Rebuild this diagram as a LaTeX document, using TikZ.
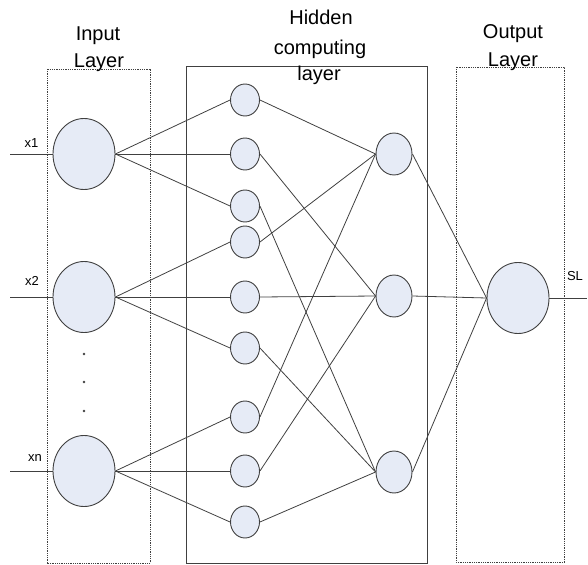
\documentclass[tikz,border=0pt]{standalone}
\usepackage{fontspec}
\setmainfont{Liberation Sans}
\usetikzlibrary{shapes.geometric}
\definecolor{nfill}{HTML}{E6EBF6}
\definecolor{nline}{HTML}{404040}
\begin{document}
\begin{tikzpicture}[x=1pt,y=-1pt,
  big/.style={ellipse,draw=nline,fill=nfill,line width=0.9pt,minimum width=62pt,minimum height=71pt,inner sep=0pt},
  mid/.style={ellipse,draw=nline,fill=nfill,line width=0.9pt,minimum width=36pt,minimum height=42pt,inner sep=0pt},
  small/.style={ellipse,draw=nline,fill=nfill,line width=0.9pt,minimum width=29pt,minimum height=32pt,inner sep=0pt},
  conn/.style={draw=nline,line width=0.8pt},
  dotbox/.style={draw=nline,line width=0.9pt,dash pattern=on 1pt off 0.8pt},
  title/.style={font=\fontsize{20}{24}\selectfont,anchor=base,inner sep=0pt},
  lab/.style={font=\fontsize{13}{15}\selectfont,anchor=base,inner sep=0pt}]
\useasboundingbox (0,0) rectangle (588,564);
% boxes
\draw[dotbox] (47,69) rectangle (150,563);
\draw[draw=nline,line width=0.9pt] (186,66) rectangle (427,563);
\draw[dotbox] (456,67) rectangle (564,562);
% titles
\node[title] (t1) at (98,41) {Input};
\node[title] (t2) at (99,68) {Layer};
\node[title] (t3) at (321,25) {Hidden};
\node[title] (t4) at (320,55) {computing};
\node[title] (t5) at (319,81) {layer};
\node[title] (t6) at (513,39) {Output};
\node[title] (t7) at (513,67) {Layer};
% input nodes
\node[big] (x1) at (84,154) {};
\node[big] (x2) at (84,297) {};
\node[big] (xn) at (84,471) {};
\fill[nline] (84,354) circle (1.4) (84,382) circle (1.4) (84,411) circle (1.4);
% hidden nodes
\foreach \i/\y in {1/100,2/154,3/206,4/242,5/297,6/348,7/417,8/471,9/522}
  \node[small] (h\i) at (245,\y) {};
\node[mid] (H1) at (394,154) {};
\node[mid] (H2) at (394,296) {};
\node[mid] (H3) at (394,472) {};
% output
\node[big] (o) at (518,298) {};
% inputs free ends
\coordinate (i1) at (10,154);
\coordinate (i2) at (10,297);
\coordinate (i3) at (10,471);
\coordinate (oe) at (587,298);
\draw[conn] (i1) -- (x1.west);
\draw[conn] (i2) -- (x2.west);
\draw[conn] (i3) -- (xn.west);
\draw[conn] (o.east) -- (oe);
\node[lab] (l1) at (31.5,147) {x1};
\node[lab] (l2) at (32,285) {x2};
\node[lab] (l3) at (35,461) {xn};
\node[lab] (l4) at (575,280) {SL};
% connections input->hidden
\foreach \i in {1,2,3} \draw[conn] (x1.east) -- (h\i.west);
\foreach \i in {4,5,6} \draw[conn] (x2.east) -- (h\i.west);
\foreach \i in {7,8,9} \draw[conn] (xn.east) -- (h\i.west);
% hidden->second hidden
\foreach \i in {1,4,7} \draw[conn] (h\i.east) -- (H1.west);
\foreach \i in {2,5,8} \draw[conn] (h\i.east) -- (H2.west);
\foreach \i in {3,6,9} \draw[conn] (h\i.east) -- (H3.west);
% second hidden->output
\foreach \i in {1,2,3} \draw[conn] (H\i.east) -- (o.west);
\end{tikzpicture}
\end{document}
